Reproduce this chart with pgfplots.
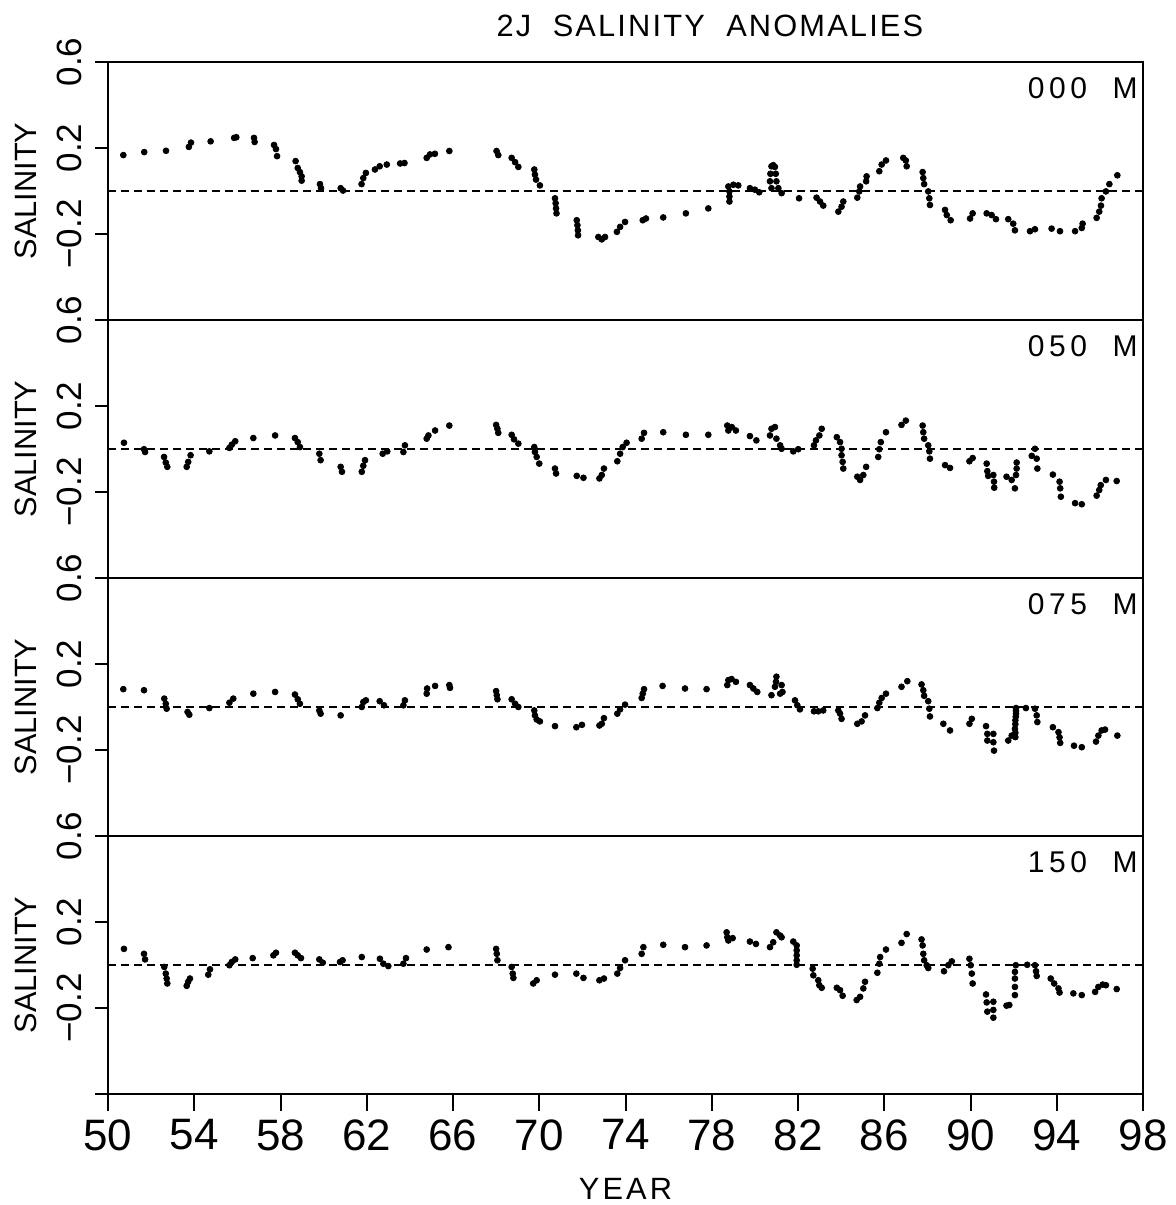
\documentclass[border=0pt]{standalone}
\usepackage{fontspec}
\setmainfont{Liberation Sans}
\newfontfamily\titlefont{Liberation Sans}[LetterSpace=7]
\newfontfamily\yearfont{Liberation Sans}[LetterSpace=10]
\newfontfamily\labfont{Liberation Sans}[LetterSpace=15]
\usepackage{pgfplots}
\usepackage{pgfplotstable}
\pgfplotsset{compat=1.18}

\pgfplotstableread{
x y
50.71 0.167
51.68 0.181
52.69 0.187
53.75 0.205
53.85 0.225
54.76 0.231
55.85 0.247
55.95 0.250
56.77 0.247
56.80 0.228
57.70 0.214
57.79 0.195
57.84 0.162
58.70 0.139
58.80 0.107
58.90 0.088
58.98 0.068
58.98 0.048
59.83 0.032
59.88 0.013
60.79 0.013
60.90 0.002
61.76 0.032
61.84 0.060
61.96 0.084
62.38 0.100
62.60 0.115
62.93 0.123
63.55 0.128
63.75 0.130
64.78 0.154
64.93 0.170
65.16 0.173
65.83 0.186
68.02 0.186
68.10 0.167
68.72 0.154
68.88 0.134
69.03 0.112
69.77 0.100
69.80 0.076
69.85 0.053
70.03 0.026
70.73 -0.034
70.76 -0.057
70.78 -0.081
70.80 -0.104
71.74 -0.136
71.77 -0.159
71.79 -0.183
71.80 -0.206
72.74 -0.214
72.90 -0.225
73.05 -0.214
73.60 -0.190
73.75 -0.167
73.98 -0.144
74.80 -0.136
74.95 -0.128
75.75 -0.123
76.80 -0.104
77.84 -0.081
78.77 0.021
78.82 -0.002
78.82 -0.026
78.82 -0.049
79.00 0.029
79.23 0.026
79.77 0.013
80.00 0.006
80.20 -0.006
80.70 0.045
80.72 0.080
80.77 0.115
80.85 0.120
80.93 0.112
80.97 0.080
81.00 0.045
80.77 0.013
81.09 0.013
81.24 -0.010
82.05 -0.034
82.86 -0.031
83.02 -0.049
83.17 -0.068
83.87 -0.096
84.02 -0.073
84.10 -0.049
84.75 -0.031
84.84 -0.002
84.88 0.021
85.16 0.045
85.18 0.068
85.77 0.092
85.88 0.123
86.08 0.142
86.88 0.154
87.00 0.142
87.04 0.115
87.78 0.088
87.81 0.060
87.85 0.032
88.04 -0.002
88.09 -0.034
88.12 -0.065
88.82 -0.088
88.90 -0.112
89.08 -0.136
89.98 -0.128
90.10 -0.104
90.75 -0.104
90.98 -0.112
91.18 -0.131
91.75 -0.131
91.98 -0.152
92.06 -0.183
92.76 -0.187
92.99 -0.178
93.76 -0.175
94.15 -0.187
94.85 -0.187
95.16 -0.172
95.20 -0.152
95.85 -0.125
95.97 -0.096
96.05 -0.068
96.08 -0.034
96.28 -0.002
96.44 0.032
96.81 0.073
}\dataA

\pgfplotstableread{
x y
50.74 0.029
51.67 -0.001
51.72 -0.014
52.60 -0.037
52.68 -0.063
52.75 -0.083
53.65 -0.083
53.72 -0.060
53.83 -0.029
54.70 -0.011
55.63 0.005
55.74 0.020
55.90 0.036
56.74 0.051
57.75 0.063
58.67 0.051
58.80 0.032
58.90 0.009
59.80 -0.022
59.86 -0.052
60.79 -0.083
60.85 -0.106
61.77 -0.106
61.84 -0.078
61.92 -0.052
62.74 -0.022
62.95 -0.011
63.70 -0.014
63.77 0.017
64.78 0.048
64.86 0.063
65.17 0.086
65.83 0.109
68.00 0.112
68.06 0.094
68.10 0.075
68.72 0.066
68.83 0.045
69.03 0.025
69.77 0.009
69.80 -0.014
69.88 -0.037
70.00 -0.068
70.73 -0.091
70.78 -0.114
71.74 -0.125
72.05 -0.134
72.79 -0.137
72.90 -0.121
73.00 -0.091
73.62 -0.057
73.75 -0.022
73.87 0.009
74.05 0.029
74.75 0.048
74.86 0.075
75.75 0.078
76.80 0.066
77.84 0.066
78.72 0.109
78.77 0.086
78.93 0.102
79.12 0.086
79.77 0.060
80.07 0.040
80.70 0.063
80.77 0.094
80.93 0.102
81.00 0.048
81.17 0.017
81.24 0.001
81.78 -0.011
82.01 -0.001
82.74 0.017
82.83 0.040
82.99 0.063
83.10 0.094
83.80 0.055
83.95 0.032
84.02 0.001
84.02 -0.029
84.07 -0.060
84.10 -0.091
84.75 -0.129
84.88 -0.144
85.03 -0.121
85.16 -0.083
85.72 -0.037
85.77 -0.001
85.84 0.032
86.08 0.078
86.80 0.112
87.00 0.132
87.78 0.109
87.81 0.078
87.85 0.048
88.04 0.017
88.09 -0.011
88.12 -0.045
88.82 -0.075
89.05 -0.088
89.95 -0.057
90.10 -0.042
90.75 -0.068
90.78 -0.103
90.82 -0.125
91.06 -0.121
91.09 -0.152
91.10 -0.180
91.67 -0.129
91.91 -0.144
92.06 -0.183
92.11 -0.121
92.14 -0.091
92.14 -0.063
92.84 -0.032
92.99 0.001
93.07 -0.045
93.10 -0.091
93.82 -0.119
94.13 -0.152
94.16 -0.183
94.19 -0.222
94.85 -0.252
95.16 -0.257
95.85 -0.217
95.97 -0.191
96.04 -0.168
96.28 -0.144
96.78 -0.149
}\dataB

\pgfplotstableread{
x y
50.71 0.083
51.67 0.078
52.61 0.039
52.68 0.015
52.72 -0.008
53.69 -0.023
53.77 -0.036
54.70 -0.005
55.63 0.020
55.81 0.039
56.74 0.062
57.75 0.070
58.67 0.058
58.80 0.036
58.90 0.015
59.80 -0.016
59.86 -0.031
60.79 -0.039
61.77 0.000
61.84 0.023
61.96 0.031
62.60 0.027
62.80 0.008
63.70 0.008
63.77 0.031
64.78 0.062
64.80 0.086
65.17 0.098
65.83 0.102
65.86 0.089
68.00 0.074
68.03 0.055
68.06 0.036
68.72 0.036
68.88 0.015
69.03 0.000
69.77 -0.016
69.80 -0.039
69.88 -0.058
70.03 -0.067
70.73 -0.089
71.72 -0.094
71.98 -0.083
72.79 -0.086
72.90 -0.078
73.00 -0.052
73.62 -0.031
73.75 -0.011
73.98 0.011
74.75 0.042
74.80 0.062
74.86 0.083
75.72 0.098
76.76 0.086
77.76 0.083
78.72 0.102
78.77 0.125
78.92 0.130
79.12 0.117
79.77 0.102
79.93 0.086
80.11 0.070
80.77 0.055
80.93 0.094
80.98 0.117
81.00 0.141
81.17 0.062
81.24 0.102
81.28 0.070
81.86 0.031
81.97 0.008
82.09 -0.011
82.74 -0.020
82.94 -0.020
83.17 -0.016
83.87 -0.016
83.95 -0.031
84.02 -0.055
84.75 -0.078
84.95 -0.067
85.11 -0.039
85.68 -0.005
85.77 0.020
85.88 0.042
86.08 0.062
86.80 0.094
87.07 0.120
87.73 0.105
87.81 0.078
87.85 0.052
88.04 0.027
88.09 -0.008
88.12 -0.044
88.74 -0.078
89.05 -0.109
89.95 -0.078
90.06 -0.055
90.72 -0.089
90.78 -0.125
90.78 -0.156
91.06 -0.125
91.06 -0.164
91.09 -0.203
91.75 -0.156
91.91 -0.133
92.06 -0.102
92.08 -0.140
92.08 -0.120
92.08 -0.080
92.08 -0.062
92.10 -0.045
92.11 -0.031
92.11 -0.018
92.11 -0.005
92.57 -0.005
92.99 -0.008
93.07 -0.039
93.10 -0.070
93.82 -0.094
94.08 -0.117
94.13 -0.141
94.16 -0.167
94.80 -0.180
95.16 -0.187
95.82 -0.161
95.93 -0.133
96.08 -0.109
96.24 -0.105
96.81 -0.133
}\dataC

\pgfplotstableread{
x y
50.74 0.075
51.67 0.052
51.72 0.026
52.61 -0.009
52.68 -0.040
52.72 -0.063
52.75 -0.086
53.65 -0.097
53.72 -0.078
53.80 -0.063
54.65 -0.045
54.73 -0.020
55.63 -0.001
55.74 0.014
55.90 0.026
56.71 0.032
57.67 0.045
57.79 0.057
58.67 0.057
58.80 0.045
58.95 0.032
59.80 0.026
59.96 0.011
60.76 0.014
60.88 0.022
61.77 0.037
62.61 0.029
62.77 0.006
63.00 -0.005
63.70 0.006
63.82 0.032
64.78 0.072
65.79 0.083
68.00 0.075
68.03 0.052
68.06 0.022
68.72 -0.009
68.77 -0.040
68.80 -0.060
69.72 -0.086
69.88 -0.071
70.73 -0.045
71.72 -0.040
72.05 -0.060
72.79 -0.071
73.00 -0.063
73.62 -0.040
73.75 -0.014
73.98 0.022
74.75 0.052
74.83 0.083
75.75 0.094
76.76 0.083
77.76 0.091
78.69 0.152
78.72 0.129
78.77 0.114
78.97 0.125
79.77 0.109
80.05 0.098
80.70 0.083
80.85 0.106
81.00 0.152
81.17 0.137
81.24 0.129
81.78 0.109
81.94 0.091
81.94 0.068
81.94 0.045
81.94 0.022
81.94 0.001
82.68 -0.017
82.71 -0.048
82.94 -0.071
82.99 -0.094
83.10 -0.106
83.80 -0.106
83.95 -0.117
84.07 -0.143
84.72 -0.163
84.88 -0.148
85.03 -0.109
85.11 -0.078
85.68 -0.036
85.77 0.006
85.81 0.037
86.08 0.072
86.80 0.103
87.04 0.144
87.73 0.119
87.78 0.091
87.81 0.052
87.85 0.022
87.97 -0.001
88.04 -0.014
88.77 -0.029
88.97 -0.001
89.13 0.017
89.95 0.029
90.01 -0.001
90.06 -0.040
90.10 -0.086
90.72 -0.137
90.75 -0.174
90.78 -0.217
91.06 -0.171
91.06 -0.209
91.06 -0.245
91.67 -0.189
91.80 -0.186
92.06 -0.140
92.06 -0.102
92.06 -0.063
92.06 -0.032
92.10 -0.001
92.63 0.001
92.99 -0.001
93.04 -0.029
93.07 -0.051
93.72 -0.063
93.88 -0.086
94.08 -0.109
94.13 -0.128
94.77 -0.132
95.16 -0.140
95.78 -0.125
95.93 -0.102
96.13 -0.091
96.28 -0.094
96.78 -0.112
}\dataD

\pgfplotsset{
  panel/.style={
    scale only axis, width=517.5pt, height=129pt,
    xmin=50, xmax=98, ymin=-0.6, ymax=0.6,
    axis line style={line width=1.3pt},
    tick align=outside, tick pos=left,
    ytick={-0.6,-0.2,0.2,0.6},
    yticklabels={,−0.2,0.2,0.6},
    yticklabel style={rotate=90, anchor=south, inner xsep=0pt, inner ysep=6.5pt, font=\fontsize{17.5}{20}\selectfont},
    major tick length=6.5pt,
    tick style={line width=1pt, black},
    ylabel={SALINITY},
    ylabel style={font=\fontsize{15.4}{18}\selectfont, at={(axis description cs:-0.0686,0.5)}, rotate=0, anchor=south, inner sep=0pt},
    xtick=\empty,
    clip=false,
  },
  zeroline/.style={black, line width=0.6pt, dash pattern=on 4pt off 2.5pt},
  dots/.style={only marks, mark=*, mark size=1.45pt, black},
}
\tikzset{plab/.style={anchor=north east, inner sep=0pt, font=\labfont\fontsize{15}{17}\selectfont}}

\begin{document}
\begin{tikzpicture}
\path[use as bounding box] (-54pt,-55.5pt) rectangle (534pt,547pt);

\begin{axis}[panel, at={(0pt,387pt)}]
\addplot[zeroline] coordinates {(50,0) (98,0)};
\addplot[dots] table {\dataA};
\node[plab] at (rel axis cs:0.9952,0.942) {000\ \ M};
\node[anchor=base, inner sep=0pt, font=\titlefont\fontsize{15.4}{18}\selectfont] at (rel axis cs:0.5816,1.0969) {2J\ \ SALINITY\ \ ANOMALIES};
\end{axis}

\begin{axis}[panel, at={(0pt,258pt)}]
\addplot[zeroline] coordinates {(50,0) (98,0)};
\addplot[dots] table {\dataB};
\node[plab] at (rel axis cs:0.9952,0.942) {050\ \ M};
\end{axis}

\begin{axis}[panel, at={(0pt,129pt)}]
\addplot[zeroline] coordinates {(50,0) (98,0)};
\addplot[dots] table {\dataC};
\node[plab] at (rel axis cs:0.9952,0.942) {075\ \ M};
\end{axis}

\begin{axis}[panel, at={(0pt,0pt)},
  extra x ticks={50,54,...,98},
  extra x tick labels={50,54,58,62,66,70,74,78,82,86,90,94,98},
  extra x tick style={major tick length=8.5pt},
  xticklabel style={font=\fontsize{22}{24}\selectfont, anchor=north, inner sep=0pt, yshift=-4pt},
  xlabel={YEAR},
  xlabel style={at={(axis description cs:0.5,-0.407)}, anchor=base, inner sep=0pt, font=\yearfont\fontsize{15.4}{18}\selectfont}]
\addplot[zeroline] coordinates {(50,0) (98,0)};
\addplot[dots] table {\dataD};
\node[plab] at (rel axis cs:0.9952,0.942) {150\ \ M};
\end{axis}
\end{tikzpicture}
\end{document}
